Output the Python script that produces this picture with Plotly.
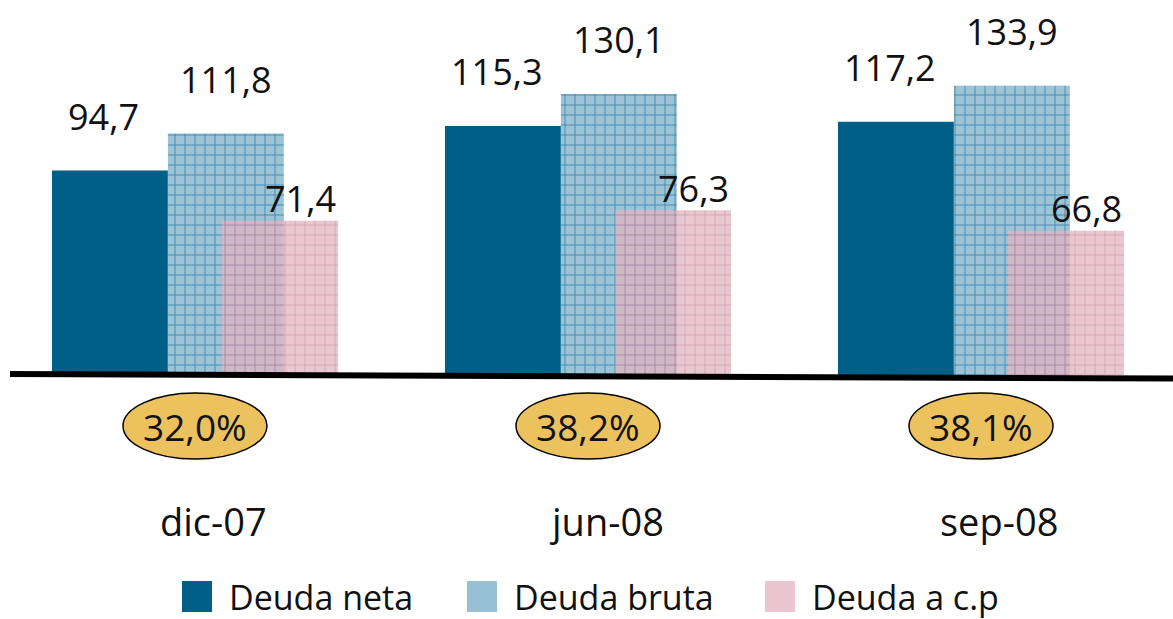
import plotly.graph_objs as go

# chart data
periods = ['dic-07', 'jun-08', 'sep-08']
deuda_neta = [94.7, 115.3, 117.2]
deuda_bruta = [111.8, 130.1, 133.9]
deuda_cp = [71.4, 76.3, 66.8]
ratios = ['32,0%', '38,2%', '38,1%']
series_names = ['Deuda neta', 'Deuda bruta', 'Deuda a c.p']

W, H = 1173, 619
FONT = 'Open Sans'
NETA = '#005f87'

x = list(range(len(periods)))
bar_w = 0.295

fig = go.Figure()

fig.add_trace(go.Bar(
    x=x, y=deuda_neta, name=series_names[0],
    width=bar_w, offset=-0.364,
    marker=dict(color=NETA, line=dict(width=0)),
    showlegend=False
))

fig.add_trace(go.Bar(
    x=x, y=deuda_bruta, name=series_names[1],
    width=bar_w, offset=-0.069,
    marker=dict(
        color='#2f7aa0', line=dict(width=0),
        pattern=dict(shape='+', bgcolor='#9cc3d6', fgcolor='#2f7aa0',
                     size=10, solidity=0.14, fillmode='replace')
    ),
    showlegend=False
))

fig.add_trace(go.Bar(
    x=x, y=deuda_cp, name=series_names[2],
    width=bar_w, offset=0.069,
    marker=dict(
        color='#c07c93', line=dict(width=0), opacity=0.75,
        pattern=dict(shape='+', bgcolor='#e2b4c1', fgcolor='#c07c93',
                     size=10, solidity=0.14, fillmode='replace')
    ),
    showlegend=False
))

# value labels, with decimal comma
def fmt(v):
    return f'{v:.1f}'.replace('.', ',')

annotations = []
label_style = dict(showarrow=False, font=dict(family=FONT, size=36, color='#111111'),
                   yanchor='middle', xanchor='center')
for i in x:
    annotations.append(dict(x=i - 0.364 + bar_w / 2, y=deuda_neta[i], text=fmt(deuda_neta[i]),
                            xshift=-6, yshift=54, **label_style))
    annotations.append(dict(x=i - 0.069 + bar_w / 2, y=deuda_bruta[i], text=fmt(deuda_bruta[i]),
                            xshift=0, yshift=54, **label_style))
    annotations.append(dict(x=i + 0.069 + bar_w / 2, y=deuda_cp[i], text=fmt(deuda_cp[i]),
                            xshift=20, yshift=22, **label_style))

# px per unit on y
k = 2.16
base_px = 375
y_top = base_px / k
y_bot = -(H - base_px) / k

shapes = []
# ratio ellipses under the axis
ell_y0 = (base_px - 393) / k
ell_y1 = (base_px - 459) / k
ell_hw = 72 / 393
for i in x:
    shapes.append(dict(type='circle', xref='x', yref='y',
                       x0=i - ell_hw, x1=i + ell_hw, y0=ell_y1, y1=ell_y0,
                       fillcolor='#ebc25e', line=dict(color='black', width=1.5), layer='above'))
    annotations.append(dict(x=i, y=(ell_y0 + ell_y1) / 2, text=ratios[i], showarrow=False,
                            font=dict(family=FONT, size=37, color='#111111'),
                            xanchor='center', yanchor='middle'))
    annotations.append(dict(x=i, y=(base_px - 521) / k, text=periods[i], showarrow=False,
                            font=dict(family=FONT, size=38, color='#111111'),
                            xanchor='center', yanchor='middle', xshift=18))

# baseline
shapes.append(dict(type='line', xref='paper', yref='y',
                   x0=10 / W, x1=1, y0=(base_px - 374) / k, y1=(base_px - 378.5) / k,
                   line=dict(color='black', width=6), layer='above'))

# legend drawn by hand so the keys are large
legend_keys = [(182, NETA, series_names[0]),
               (467, '#98c0d4', series_names[1]),
               (765, '#ebc6d0', series_names[2])]
for left, col, name in legend_keys:
    shapes.append(dict(type='rect', xref='paper', yref='paper',
                       x0=left / W, x1=(left + 30) / W,
                       y0=1 - 612 / H, y1=1 - 581 / H,
                       fillcolor=col, line=dict(width=0)))
    annotations.append(dict(xref='paper', yref='paper', x=(left + 45) / W, y=1 - 597 / H,
                            text=name, showarrow=False, xanchor='left', yanchor='middle',
                            font=dict(family=FONT, size=34, color='#111111')))

fig.update_layout(
    width=W, height=H,
    margin=dict(l=0, r=0, t=0, b=0),
    barmode='overlay',
    paper_bgcolor='white', plot_bgcolor='white',
    xaxis=dict(range=[-195 / 393, (W - 195) / 393], visible=False, fixedrange=True),
    yaxis=dict(range=[y_bot, y_top], visible=False, fixedrange=True),
    shapes=shapes,
    annotations=annotations,
    showlegend=False,
)

# drop the default body margin so the figure sits at the window corner
fig.write_html('out.html', config={'displayModeBar': False},
               post_script="document.body.style.margin='0';")
